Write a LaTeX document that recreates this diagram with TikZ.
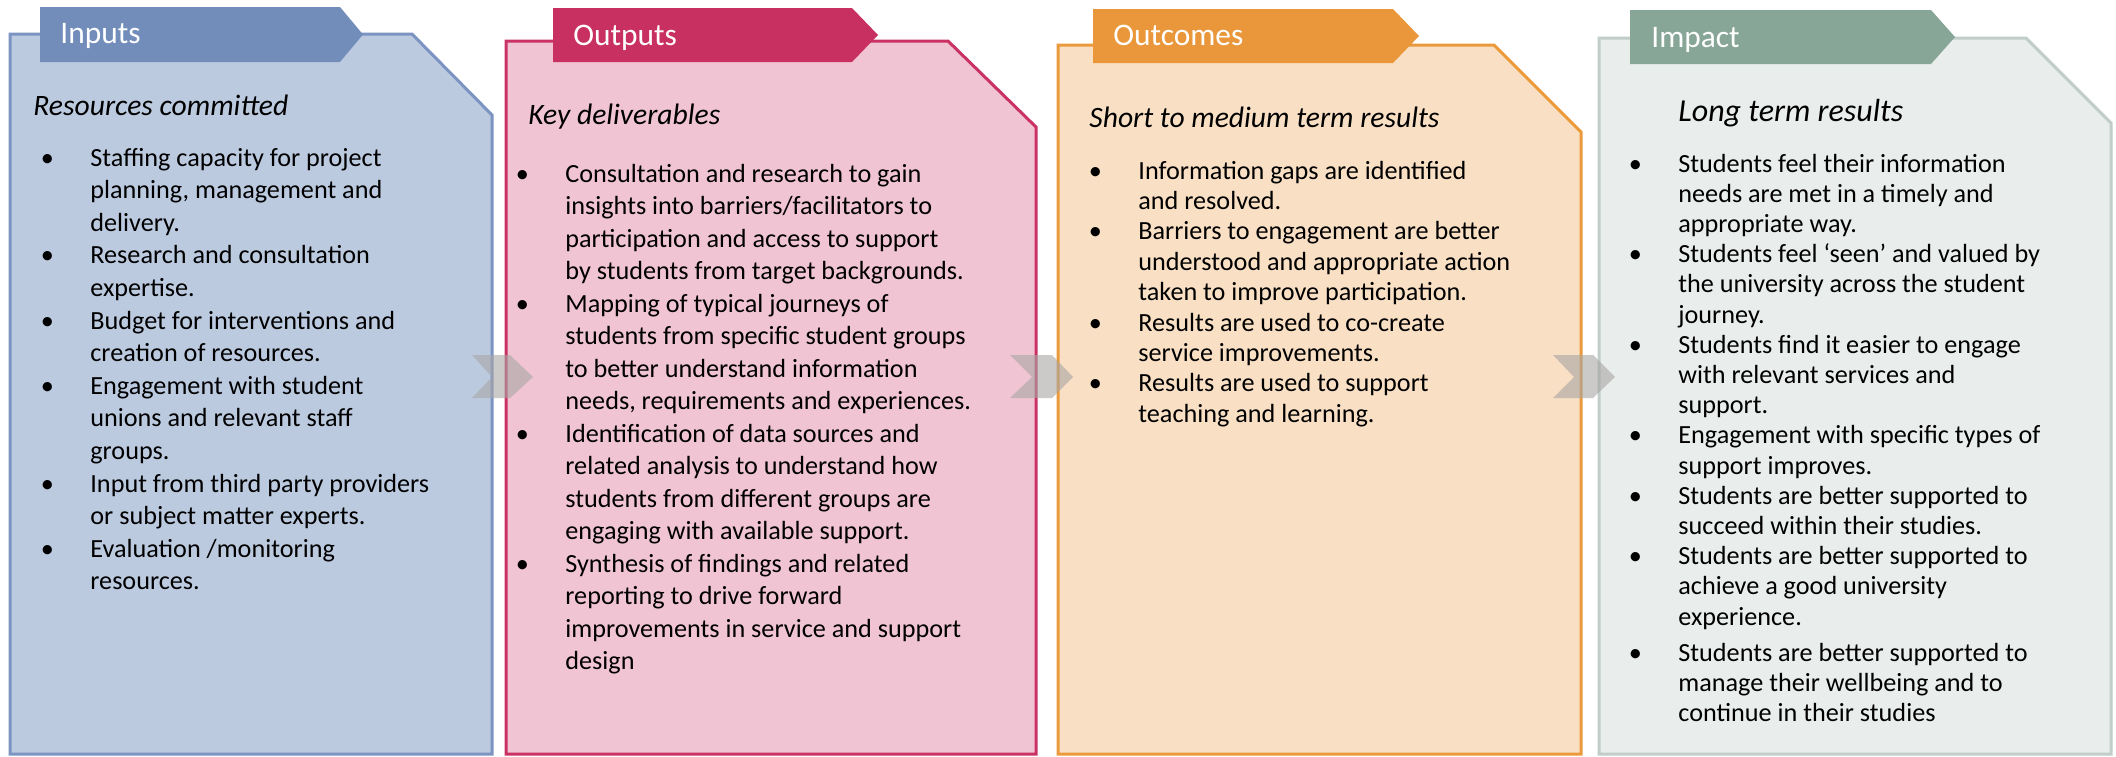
\documentclass[tikz,border=0pt]{standalone}
\usepackage{fontspec}
\setmainfont{Carlito}
\usetikzlibrary{positioning}

\definecolor{inFill}{HTML}{BCCAE0}
\definecolor{inLine}{HTML}{7B94C2}
\definecolor{inTab}{HTML}{738DBB}
\definecolor{outFill}{HTML}{F0C4D3}
\definecolor{outLine}{HTML}{C93263}
\definecolor{outTab}{HTML}{C93062}
\definecolor{ocFill}{HTML}{F9DFC4}
\definecolor{ocLine}{HTML}{EB9A3B}
\definecolor{ocTab}{HTML}{E9973A}
\definecolor{imFill}{HTML}{E9EDEC}
\definecolor{imLine}{HTML}{C0CDC9}
\definecolor{imTab}{HTML}{88A697}
\definecolor{chevGray}{HTML}{A8A6A4}

% bullet centred on the cell's left edge, in a box as wide as the gap to the text
\newcommand{\bl}{\makebox[21.5pt][l]{\makebox[0pt]{\textbullet}}}

\tikzset{
	panel/.style={line width=1.5pt, line join=miter},
	tabhead/.style={anchor=base west, inner sep=0pt, text=white,
		font=\fontsize{15.7}{18}\selectfont},
	subtitle/.style={anchor=base west, inner sep=0pt,
		font=\fontsize{14.8}{17}\selectfont\itshape},
	listtext/.style={anchor=base west, inner sep=0pt, align=left,
		font=\fontsize{13.1}{#1}\selectfont},
	listtext/.default=16.3pt,
	chevron/.style={fill=chevGray, fill opacity=0.6},
}

\begin{document}
\begin{tikzpicture}[x=0.5pt,y=-0.5pt]
	\useasboundingbox (0,0) rectangle (2116,756);

	% Inputs
	\draw[panel, draw=inLine, fill=inFill] (10,34) -- (412,34) -- (492,115)
	-- (492,754) -- (10,754) -- cycle;
	\fill[inTab] (40,7) -- (340,7) -- (363,34.5) -- (340,62) -- (40,62) -- cycle;
	\node[tabhead] (inputs) at (60,43) {Inputs};
	\node[subtitle] (resources) at (33,115) {Resources committed};
	\node[listtext] (inlist) at (47,166) {\begin{tabular}[t]{@{}l@{}l@{}}
		\bl & Staffing capacity for project\\
		& planning, management and\\
		& delivery.\\
		\bl & Research and consultation\\
		& expertise.\\
		\bl & Budget for interventions and\\
		& creation of resources.\\
		\bl & Engagement with student\\
		& unions and relevant staff\\
		& groups.\\
		\bl & Input from third party providers\\
		& or subject matter experts.\\
		\bl & Evaluation /monitoring\\
		& resources.
	\end{tabular}};

	% Outputs
	\draw[panel, draw=outLine, fill=outFill] (506,41) -- (948,41) -- (1036,127)
	-- (1036,754) -- (506,754) -- cycle;
	\fill[outTab] (553,8) -- (852,8) -- (878,35) -- (852,62) -- (553,62) -- cycle;
	\node[tabhead] (outputs) at (573,45) {Outputs};
	\node[subtitle] (deliverables) at (528,124) {Key deliverables};
	\node[listtext=16.25pt] (outlist) at (522,182) {\begin{tabular}[t]{@{}l@{}l@{}}
		\bl & Consultation and research to gain\\
		& insights into barriers/facilitators to\\
		& participation and access to support\\
		& by students from target backgrounds.\\
		\bl & Mapping of typical journeys of\\
		& students from specific student groups\\
		& to better understand information\\
		& needs, requirements and experiences.\\
		\bl & Identification of data sources and\\
		& related analysis to understand how\\
		& students from different groups are\\
		& engaging with available support.\\
		\bl & Synthesis of findings and related\\
		& reporting to drive forward\\
		& improvements in service and support\\
		& design
	\end{tabular}};

	% Outcomes
	\draw[panel, draw=ocLine, fill=ocFill] (1058,45) -- (1494,45) -- (1581,132)
	-- (1581,754) -- (1058,754) -- cycle;
	\fill[ocTab] (1093,9) -- (1393,9) -- (1419,36) -- (1393,63) -- (1093,63) -- cycle;
	\node[tabhead] (outcomes) at (1113,45) {Outcomes};
	\node[subtitle] (shortterm) at (1089,127) {Short to medium term results};
	\node[listtext=15.2pt] (oclist) at (1095,179) {\begin{tabular}[t]{@{}l@{}l@{}}
		\bl & Information gaps are identified\\
		& and resolved.\\
		\bl & Barriers to engagement are better\\
		& understood and appropriate action\\
		& taken to improve participation.\\
		\bl & Results are used to co-create\\
		& service improvements.\\
		\bl & Results are used to support\\
		& teaching and learning.
	\end{tabular}};

	% Impact
	\draw[panel, draw=imLine, fill=imFill] (1599,38) -- (2026,38) -- (2111,123)
	-- (2111,754) -- (1599,754) -- cycle;
	\fill[imTab] (1630,10) -- (1931,10) -- (1955,37) -- (1931,64) -- (1630,64) -- cycle;
	\node[tabhead] (impact) at (1651,47) {Impact};
	\node[subtitle, font=\fontsize{16}{19}\selectfont\itshape] (longterm) at (1678,121)
		{Long term results};
	\node[listtext=15.1pt] (imlist) at (1635,172) {\begin{tabular}[t]{@{}l@{}l@{}}
		\bl & Students feel their information\\
		& needs are met in a timely and\\
		& appropriate way.\\
		\bl & Students feel ‘seen’ and valued by\\
		& the university across the student\\
		& journey.\\
		\bl & Students find it easier to engage\\
		& with relevant services and\\
		& support.\\
		\bl & Engagement with specific types of\\
		& support improves.\\
		\bl & Students are better supported to\\
		& succeed within their studies.\\
		\bl & Students are better supported to\\
		& achieve a good university\\
		& experience.\\[2.9pt]
		\bl & Students are better supported to\\
		& manage their wellbeing and to\\
		& continue in their studies
	\end{tabular}};

	% chevrons between the panels
	\fill[chevron] (472,355) -- (510,355) -- (533,377) -- (510,398) -- (472,398)
	-- (492,377) -- cycle;
	\fill[chevron] (1010,355) -- (1052,355) -- (1073,377) -- (1052,398) -- (1010,398)
	-- (1032,377) -- cycle;
	\fill[chevron] (1553,355) -- (1593,355) -- (1615,377) -- (1593,398) -- (1553,398)
	-- (1574,377) -- cycle;
\end{tikzpicture}
\end{document}
